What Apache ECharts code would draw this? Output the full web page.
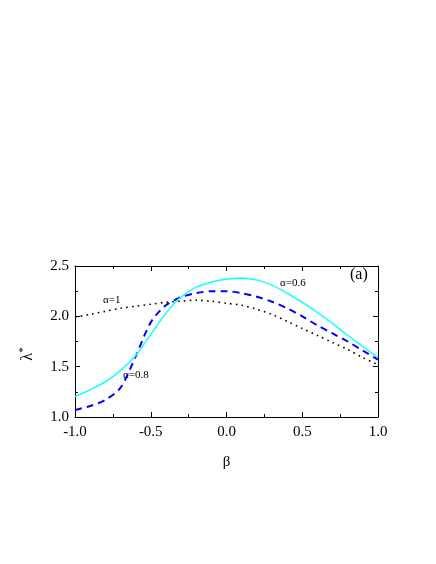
<!DOCTYPE html>
<html>
<head>
<meta charset="utf-8">
<script src="https://cdn.jsdelivr.net/npm/echarts@6/dist/echarts.min.js"></script>
<style>
  html, body { margin: 0; padding: 0; background: #fff; }
  #chart { width: 436px; height: 564px; }
</style>
</head>
<body>
<div id="chart"></div>
<script>
// beta grid shared by every curve
var betaValues = [-1.0, -0.9, -0.8, -0.7, -0.6, -0.5, -0.4, -0.3, -0.2, -0.1, 0.0,
                  0.1, 0.2, 0.3, 0.4, 0.5, 0.6, 0.7, 0.8, 0.9, 1.0]
// lambda* for alpha = 0.6 (cyan solid)
var lambdaA06 = [1.20, 1.27, 1.35, 1.46, 1.61, 1.82, 2.03, 2.19, 2.29, 2.34, 2.37,
                 2.38, 2.36, 2.31, 2.23, 2.14, 2.04, 1.93, 1.81, 1.70, 1.59]
// lambda* for alpha = 0.8 (blue dashed)
var lambdaA08 = [1.07, 1.11, 1.17, 1.29, 1.60, 1.94, 2.11, 2.19, 2.23, 2.25, 2.25,
                 2.23, 2.195, 2.145, 2.08, 2.00, 1.91, 1.83, 1.75, 1.66, 1.57]
// lambda* for alpha = 1 (black dotted)
var lambdaA1 = [1.99, 2.02, 2.05, 2.08, 2.10, 2.12, 2.14, 2.15, 2.16, 2.15, 2.13,
                2.11, 2.07, 2.02, 1.95, 1.88, 1.81, 1.74, 1.67, 1.59, 1.52]
var xTicks = ['-1.0', '-0.5', '0.0', '0.5', '1.0']
var yTicks = ['1.0', '1.5', '2.0', '2.5']

var serif = '"Liberation Serif", "DejaVu Serif", serif'

function pairs(ys) {
  return betaValues.map(function (b, i) { return [b, ys[i]] })
}

function axisBase(show) {
  return {
    type: 'value',
    interval: 0.5,
    axisLine: { show: true, onZero: false, lineStyle: { color: '#000', width: 1 } },
    axisTick: { show: true, inside: true, length: 5, lineStyle: { color: '#000' } },
    minorTick: { show: true, splitNumber: 2, length: 3, lineStyle: { color: '#000' } },
    splitLine: { show: false },
    axisLabel: {
      show: show,
      color: '#000',
      fontFamily: serif,
      fontSize: 15,
      margin: 6
    }
  }
}

var xBottom = Object.assign(axisBase(true), {
  min: -1, max: 1, position: 'bottom',
  name: 'β', nameLocation: 'middle', nameGap: 38,
  nameTextStyle: { color: '#000', fontFamily: serif, fontSize: 15 }
})
xBottom.axisLabel.formatter = function (v) { return xTicks[Math.round((v + 1) / 0.5)] }
xBottom.axisLabel.margin = 8

var xTop = Object.assign(axisBase(false), { min: -1, max: 1, position: 'top' })

var yLeft = Object.assign(axisBase(true), {
  min: 1, max: 2.5, position: 'left',
  name: '{l|λ}{s|*}', nameLocation: 'middle', nameGap: 38, nameRotate: 90,
  nameTextStyle: {
    color: '#000', fontFamily: serif, padding: [0, 0, 0, -25],
    rich: {
      l: { fontFamily: serif, fontSize: 16, color: '#000' },
      s: { fontFamily: serif, fontSize: 11, color: '#000', verticalAlign: 'top', padding: [0, 0, 8, 0] }
    }
  }
})
yLeft.axisLabel.formatter = function (v) { return yTicks[Math.round((v - 1) / 0.5)] }

var yRight = Object.assign(axisBase(false), { min: 1, max: 2.5, position: 'right' })

var chart = echarts.init(document.getElementById('chart'), null, { renderer: 'canvas' })
chart.setOption({
  backgroundColor: '#fff',
  animation: false,
  grid: { left: 75, right: 58, top: 266, bottom: 147, containLabel: false },
  xAxis: [xBottom, xTop],
  yAxis: [yLeft, yRight],
  series: [
    {
      name: 'α=1', type: 'line', smooth: 0.3, symbol: 'none',
      data: pairs(lambdaA1),
      lineStyle: { color: '#000', width: 1.6, type: [1.6, 4.2] }
    },
    {
      name: 'α=0.8', type: 'line', smooth: 0.3, symbol: 'none',
      data: pairs(lambdaA08),
      lineStyle: { color: '#0000ff', width: 2, type: [7, 5] }
    },
    {
      name: 'α=0.6', type: 'line', smooth: 0.3, symbol: 'none',
      data: pairs(lambdaA06),
      lineStyle: { color: '#22ffff', width: 1.6 }
    }
  ],
  graphic: [
    { type: 'text', left: 103, top: 295, style: { text: 'α=1', font: '11px ' + serif, fill: '#000' } },
    { type: 'text', left: 123, top: 370, style: { text: 'α=0.8', font: '11px ' + serif, fill: '#000' } },
    { type: 'text', left: 280, top: 278, style: { text: 'α=0.6', font: '11px ' + serif, fill: '#000' } },
    { type: 'text', left: 350, top: 267, style: { text: '(a)', font: '16px ' + serif, fill: '#000' } }
  ]
})
</script>
</body>
</html>
